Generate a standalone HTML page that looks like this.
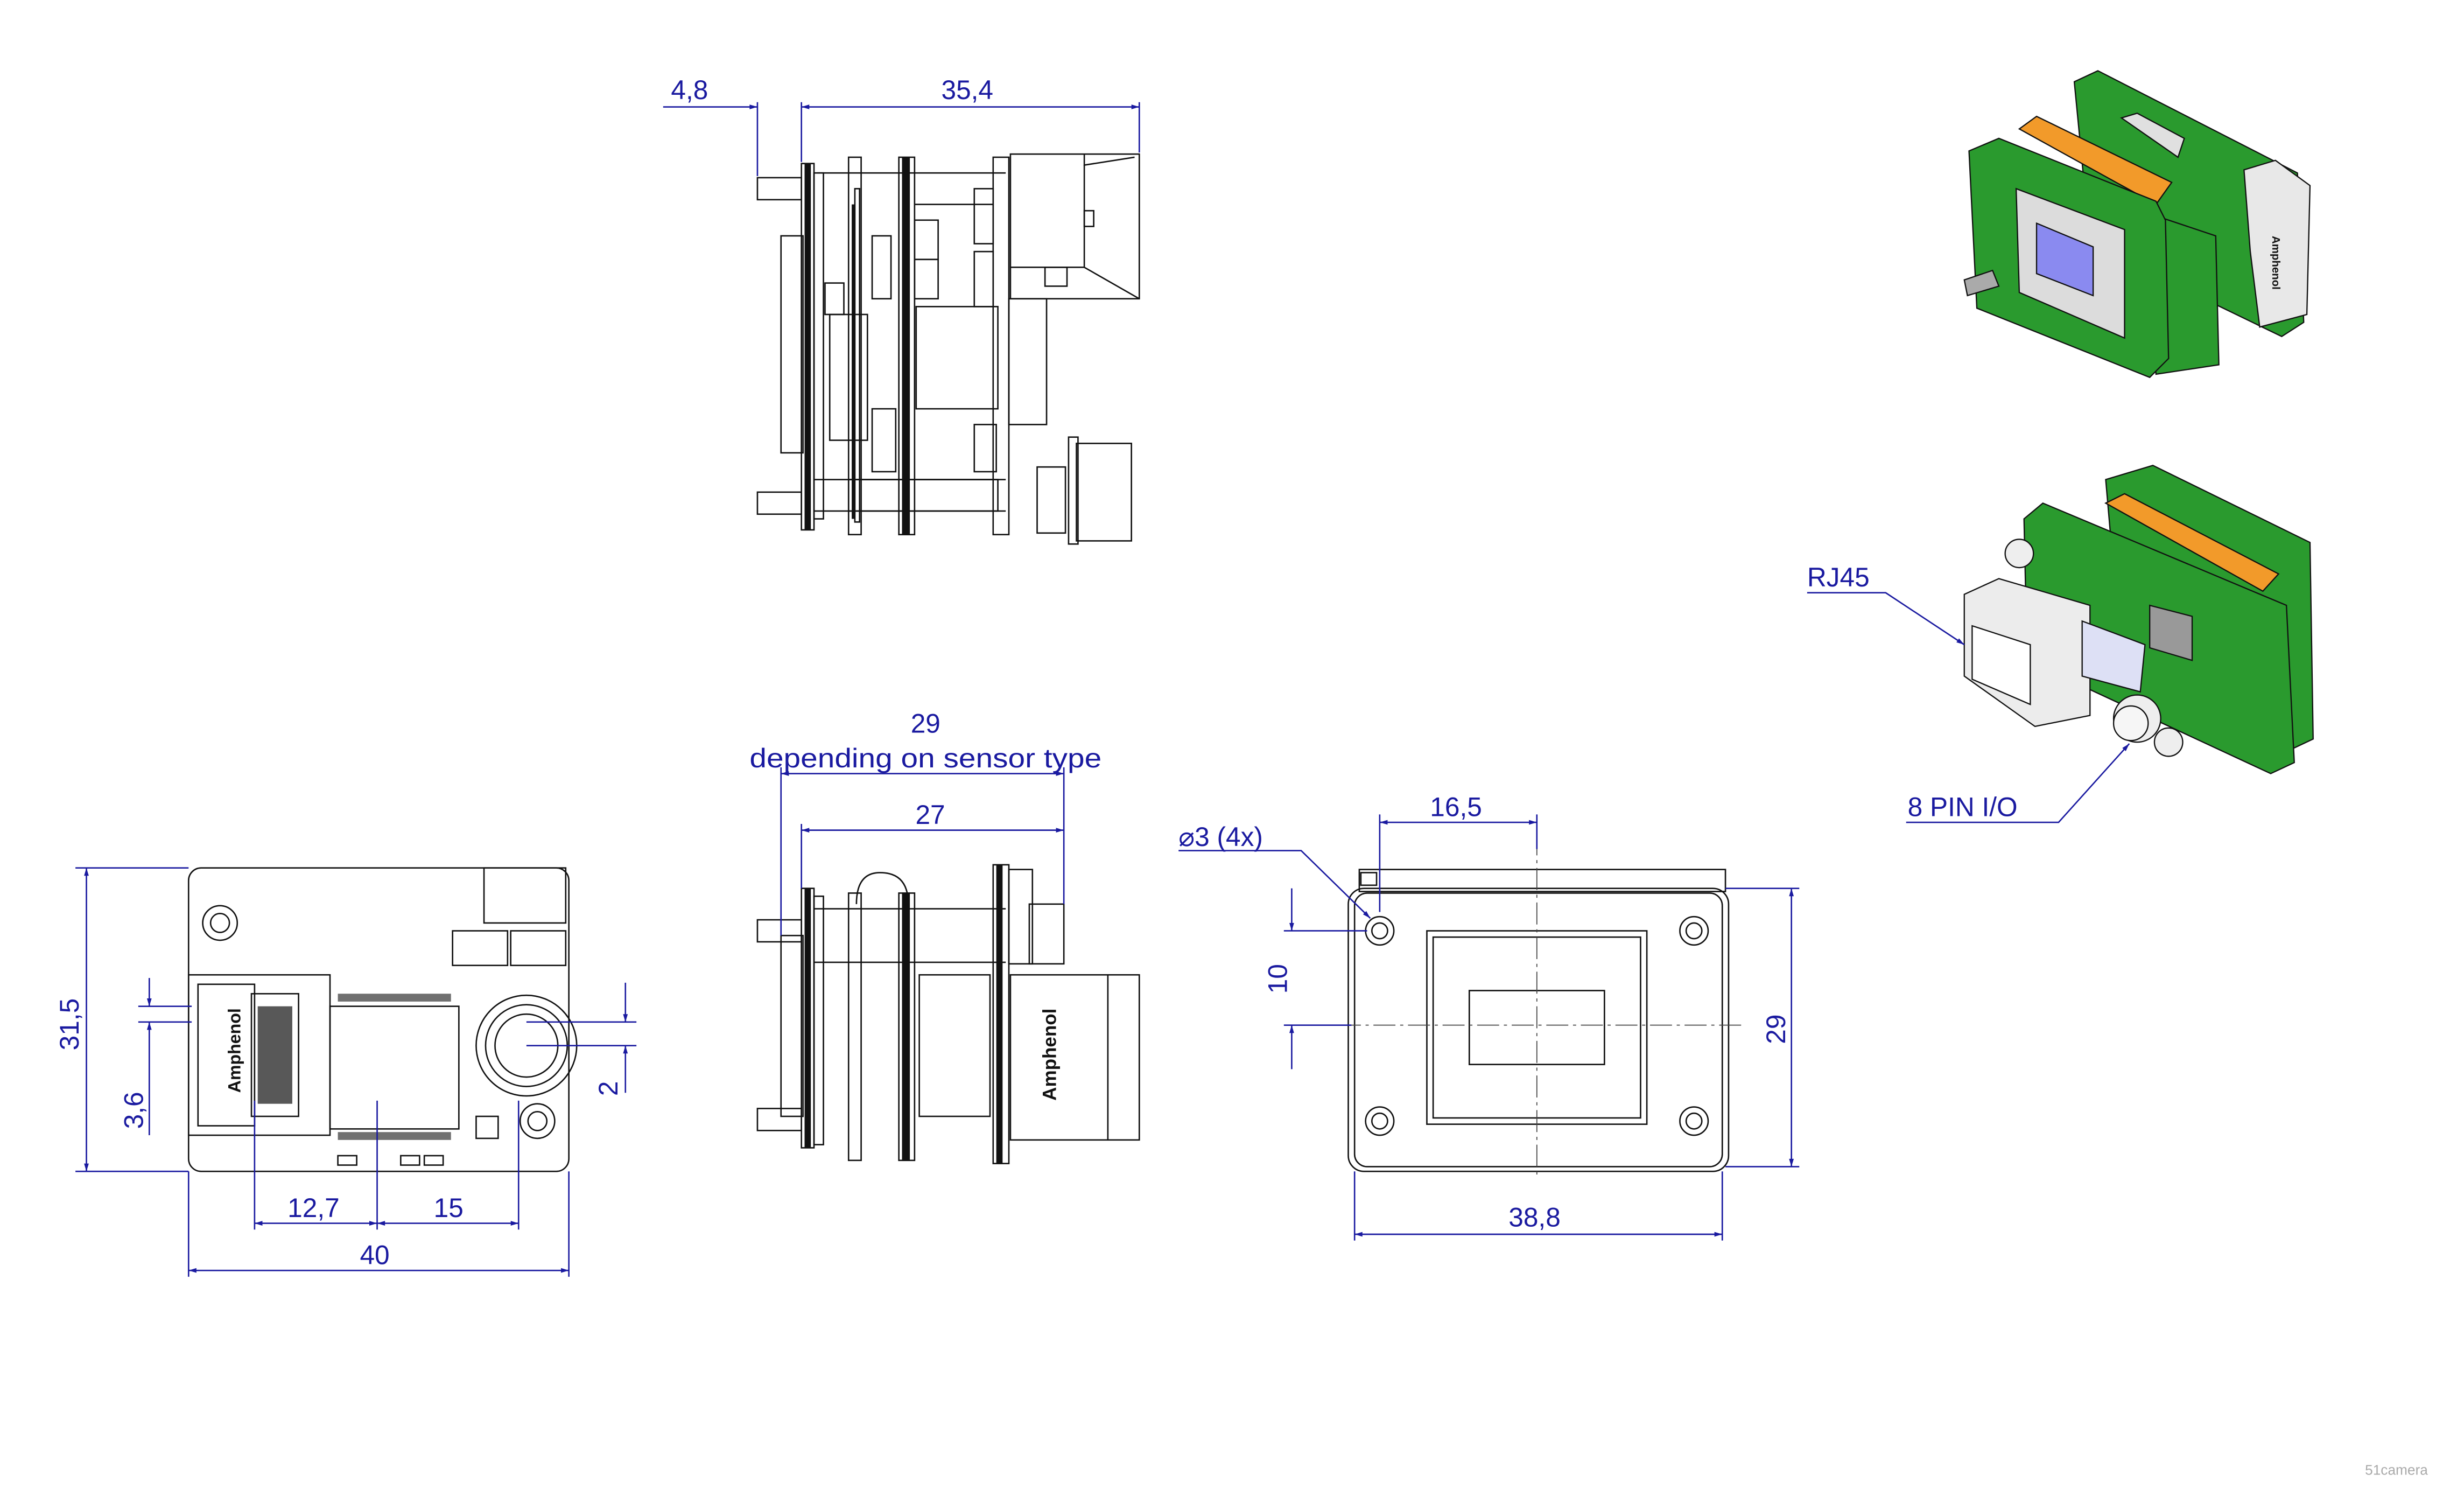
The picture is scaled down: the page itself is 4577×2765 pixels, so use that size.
<!DOCTYPE html>
<html><head><meta charset="utf-8"><style>
html,body{margin:0;padding:0;background:#fff}
svg{display:block}
text{font-family:"Liberation Sans",sans-serif}
</style></head><body>
<svg width="4577" height="2765" viewBox="0 0 1568 947" preserveAspectRatio="none" xmlns="http://www.w3.org/2000/svg">
<defs>
<marker id="a" viewBox="0 0 10 10" refX="10" refY="5" markerWidth="10" markerHeight="5" orient="auto-start-reverse" markerUnits="userSpaceOnUse"><path d="M0,2 L10,5 L0,8 z" fill="#1a1aa0"/></marker>
</defs>
<rect width="1568" height="947" fill="#fff"/>

<!-- ============ TOP SIDE VIEW ============ -->
<g fill="none" stroke="#111" stroke-width="0.9">
<rect x="482" y="113" width="28" height="14"/><rect x="482" y="313" width="28" height="14"/>
<rect x="497" y="150" width="14" height="138"/>
<rect x="510" y="104" width="8" height="233"/><rect x="518" y="110" width="6" height="220"/>
<rect x="540" y="100" width="8" height="240"/><rect x="544" y="120" width="3" height="212"/>
<rect x="572" y="100" width="10" height="240"/>
<rect x="632" y="100" width="10" height="240"/>
<rect x="643" y="98" width="82" height="92"/><polyline points="690,98 690,105 722,100"/>
<polyline points="690,105 690,170 725,190"/><line x1="643" y1="170" x2="690" y2="170"/>
<rect x="665" y="170" width="14" height="12"/><rect x="690" y="134" width="6" height="10"/>
<rect x="642" y="190" width="24" height="80"/>
<rect x="583" y="195" width="52" height="65"/>
<rect x="528" y="200" width="24" height="80"/>
<rect x="540" y="305" width="95" height="20"/>
<rect x="660" y="297" width="18" height="42"/><rect x="685" y="282" width="35" height="62"/><rect x="680" y="278" width="6" height="68"/>
<line x1="518" y1="305" x2="640" y2="305"/><line x1="518" y1="325" x2="640" y2="325"/>
<line x1="520" y1="110" x2="640" y2="110"/><line x1="582" y1="130" x2="632" y2="130"/>
<rect x="582" y="140" width="15" height="25"/><rect x="582" y="165" width="15" height="25"/>
<rect x="620" y="120" width="12" height="35"/><rect x="620" y="160" width="12" height="35"/>
<rect x="555" y="150" width="12" height="40"/><rect x="525" y="180" width="12" height="20"/>
<rect x="555" y="260" width="15" height="40"/><rect x="620" y="270" width="14" height="30"/>
</g>
<g fill="#111"><rect x="512" y="104" width="4" height="233"/><rect x="574" y="100" width="5" height="240"/><rect x="542" y="130" width="2" height="200"/></g>

<!-- top dims -->
<g stroke="#1a1aa0" stroke-width="0.9" fill="none">
<line x1="482" y1="65" x2="482" y2="112"/><line x1="510" y1="65" x2="510" y2="103"/><line x1="725" y1="65" x2="725" y2="97"/>
<line x1="422" y1="68" x2="482" y2="68" marker-end="url(#a)"/>
<line x1="510" y1="68" x2="725" y2="68" marker-start="url(#a)" marker-end="url(#a)"/>
</g>
<g fill="#1a1aa0" font-size="17"><text x="427" y="63">4,8</text><text x="599" y="63">35,4</text></g>

<!-- ============ BOTTOM-LEFT VIEW ============ -->
<g fill="none" stroke="#111" stroke-width="0.9">
<rect x="120" y="552" width="242" height="193" rx="8"/>
<rect x="120" y="620" width="90" height="102"/><rect x="126" y="626" width="36" height="90"/>
<rect x="160" y="632" width="30" height="78"/>
<rect x="210" y="640" width="82" height="78"/>
<circle cx="335" cy="665" r="32"/><circle cx="335" cy="665" r="26"/><circle cx="335" cy="665" r="20"/>
<circle cx="140" cy="587" r="11"/><circle cx="140" cy="587" r="6"/>
<circle cx="342" cy="713" r="11"/><circle cx="342" cy="713" r="6"/>
<rect x="308" y="552" width="52" height="35"/><rect x="288" y="592" width="35" height="22"/><rect x="325" y="592" width="35" height="22"/>
<rect x="303" y="710" width="14" height="14"/>
<rect x="215" y="735" width="12" height="6"/><rect x="255" y="735" width="12" height="6"/><rect x="270" y="735" width="12" height="6"/>
</g>
<g fill="#111"><rect x="164" y="640" width="22" height="62" opacity="0.7"/>
<rect x="215" y="632" width="72" height="5" opacity="0.6"/><rect x="215" y="720" width="72" height="5" opacity="0.6"/></g>
<text x="0" y="0" font-size="11" font-weight="bold" fill="#111" transform="translate(153,695) rotate(-90)">Amphenol</text>
<g stroke="#1a1aa0" stroke-width="0.9" fill="none">
<line x1="48" y1="552" x2="120" y2="552"/><line x1="48" y1="745" x2="120" y2="745"/>
<line x1="55" y1="552" x2="55" y2="745" marker-start="url(#a)" marker-end="url(#a)"/>
<line x1="88" y1="640" x2="122" y2="640"/><line x1="88" y1="650" x2="122" y2="650"/>
<line x1="95" y1="622" x2="95" y2="640" marker-end="url(#a)"/><line x1="95" y1="650" x2="95" y2="722" marker-start="url(#a)"/>
<line x1="162" y1="700" x2="162" y2="782"/><line x1="240" y1="700" x2="240" y2="782"/><line x1="330" y1="700" x2="330" y2="782"/>
<line x1="162" y1="778" x2="240" y2="778" marker-start="url(#a)" marker-end="url(#a)"/>
<line x1="240" y1="778" x2="330" y2="778" marker-start="url(#a)" marker-end="url(#a)"/>
<line x1="120" y1="745" x2="120" y2="812"/><line x1="362" y1="745" x2="362" y2="812"/>
<line x1="120" y1="808" x2="362" y2="808" marker-start="url(#a)" marker-end="url(#a)"/>
<line x1="335" y1="650" x2="405" y2="650"/><line x1="335" y1="665" x2="405" y2="665"/>
<line x1="398" y1="625" x2="398" y2="650" marker-end="url(#a)"/><line x1="398" y1="665" x2="398" y2="695" marker-start="url(#a)"/>
</g>
<g fill="#1a1aa0" font-size="17">
<text transform="translate(50,668) rotate(-90)">31,5</text>
<text transform="translate(91,718) rotate(-90)">3,6</text>
<text transform="translate(393,697) rotate(-90)">2</text>
<text x="183" y="774">12,7</text><text x="276" y="774">15</text><text x="229" y="804">40</text>
</g>

<!-- ============ MIDDLE BOTTOM VIEW ============ -->
<g fill="none" stroke="#111" stroke-width="0.9">
<rect x="482" y="585" width="28" height="14"/><rect x="482" y="705" width="28" height="14"/>
<rect x="497" y="595" width="14" height="115"/>
<rect x="510" y="565" width="8" height="165"/><rect x="518" y="570" width="6" height="158"/>
<rect x="540" y="568" width="8" height="170"/><rect x="572" y="568" width="10" height="170"/>
<rect x="632" y="550" width="10" height="190"/><rect x="642" y="553" width="15" height="60"/>
<path d="M545,575 Q545,555 560,555 Q578,555 578,575"/>
<rect x="643" y="620" width="82" height="105"/><line x1="705" y1="620" x2="705" y2="725"/>
<line x1="518" y1="578" x2="640" y2="578"/><line x1="518" y1="612" x2="640" y2="612"/>
<rect x="655" y="575" width="22" height="38"/>
<rect x="585" y="620" width="45" height="90"/>
</g>
<g fill="#111"><rect x="512" y="565" width="4" height="165"/><rect x="574" y="568" width="5" height="170"/><rect x="634" y="550" width="4" height="190"/></g>
<text font-size="12" font-weight="bold" fill="#111" transform="translate(672,700) rotate(-90)">Amphenol</text>
<g stroke="#1a1aa0" stroke-width="0.9" fill="none">
<line x1="497" y1="488" x2="497" y2="595"/><line x1="510" y1="524" x2="510" y2="565"/><line x1="677" y1="488" x2="677" y2="575"/>
<line x1="497" y1="492" x2="677" y2="492" marker-start="url(#a)" marker-end="url(#a)"/>
<line x1="510" y1="528" x2="677" y2="528" marker-start="url(#a)" marker-end="url(#a)"/>
</g>
<g fill="#1a1aa0" font-size="17" text-anchor="middle">
<text x="589" y="466">29</text><text x="589" y="488" textLength="224" lengthAdjust="spacingAndGlyphs">depending on sensor type</text><text x="592" y="524">27</text>
</g>

<!-- ============ FRONT VIEW ============ -->
<g fill="none" stroke="#111" stroke-width="0.9">
<rect x="865" y="553" width="233" height="14"/>
<rect x="858" y="565" width="242" height="180" rx="10"/>
<rect x="862" y="568" width="234" height="174" rx="8"/>
<rect x="908" y="592" width="140" height="123"/><rect x="912" y="596" width="132" height="115"/>
<rect x="935" y="630" width="86" height="47"/>
<circle cx="878" cy="592" r="9"/><circle cx="878" cy="592" r="5"/>
<circle cx="1078" cy="592" r="9"/><circle cx="1078" cy="592" r="5"/>
<circle cx="878" cy="713" r="9"/><circle cx="878" cy="713" r="5"/>
<circle cx="1078" cy="713" r="9"/><circle cx="1078" cy="713" r="5"/>
<rect x="866" y="555" width="10" height="8"/>
</g>
<g stroke="#444" stroke-width="0.6" stroke-dasharray="14,3,2,3" fill="none">
<line x1="978" y1="530" x2="978" y2="750"/><line x1="830" y1="652" x2="1110" y2="652"/>
</g>
<g stroke="#1a1aa0" stroke-width="0.9" fill="none">
<line x1="878" y1="518" x2="878" y2="580"/><line x1="978" y1="518" x2="978" y2="540"/>
<line x1="878" y1="523" x2="978" y2="523" marker-start="url(#a)" marker-end="url(#a)"/>
<line x1="862" y1="745" x2="862" y2="789"/><line x1="1096" y1="745" x2="1096" y2="789"/>
<line x1="862" y1="785" x2="1096" y2="785" marker-start="url(#a)" marker-end="url(#a)"/>
<line x1="1098" y1="565" x2="1145" y2="565"/><line x1="1098" y1="742" x2="1145" y2="742"/>
<line x1="1140" y1="565" x2="1140" y2="742" marker-start="url(#a)" marker-end="url(#a)"/>
<line x1="817" y1="592" x2="870" y2="592"/><line x1="817" y1="652" x2="860" y2="652"/>
<line x1="822" y1="565" x2="822" y2="592" marker-end="url(#a)"/><line x1="822" y1="652" x2="822" y2="680" marker-start="url(#a)"/>
<polyline points="750,541 828,541 872,584" marker-end="url(#a)"/>
</g>
<g fill="#1a1aa0" font-size="17">
<text x="910" y="519">16,5</text><text x="960" y="780">38,8</text>
<text transform="translate(1136,664) rotate(-90)">29</text>
<text transform="translate(819,632) rotate(-90)">10</text>
<text x="750" y="538">⌀3 (4x)</text>
</g>

<!-- ============ 3D RENDERS ============ -->
<g stroke="#111" stroke-width="0.8">
<!-- top render -->
<polygon points="1320,52 1335,45 1462,110 1466,205 1452,214 1330,155" fill="#2a9a2e"/>
<polygon points="1428,108 1448,102 1470,118 1468,200 1438,208 1432,160" fill="#e8e8e8"/>
<polygon points="1350,75 1360,72 1390,88 1386,100" fill="#e0e0e0"/>
<polygon points="1365,135 1410,150 1412,232 1372,238" fill="#2a9a2e"/>
<polygon points="1285,82 1296,74 1382,116 1372,130" fill="#f29a2a"/>
<polygon points="1253,96 1272,88 1372,128 1378,140 1380,228 1368,240 1258,196" fill="#2a9a2e"/>
<polygon points="1283,120 1352,146 1352,215 1285,186" fill="#dcdcdc"/>
<polygon points="1296,142 1332,157 1332,188 1296,174" fill="#8a8af0"/>
<polygon points="1250,178 1268,172 1272,182 1252,188" fill="#aaa"/>
<!-- bottom render -->
<polygon points="1340,305 1370,296 1470,345 1472,470 1455,478 1350,420" fill="#2a9a2e"/>
<polygon points="1288,330 1300,320 1455,385 1460,485 1445,492 1290,420" fill="#2a9a2e"/>
<polygon points="1340,320 1352,314 1450,365 1440,376" fill="#f29a2a"/>
<polygon points="1250,378 1272,368 1330,385 1330,455 1295,462 1250,430" fill="#ececec"/>
<polygon points="1255,398 1292,410 1292,448 1255,432" fill="#fff"/>
<polygon points="1325,395 1365,410 1362,440 1325,430" fill="#dde0f5"/>
<polygon points="1368,385 1395,392 1395,420 1368,412" fill="#999"/>
<circle cx="1360" cy="457" r="15" fill="#eee"/><circle cx="1356" cy="460" r="11" fill="#f6f6f6"/>
<circle cx="1285" cy="352" r="9" fill="#eee"/><circle cx="1380" cy="472" r="9" fill="#eee"/>
</g>
<text font-size="7" font-weight="bold" fill="#111" transform="translate(1446,150) rotate(90)">Amphenol</text>
<g stroke="#1a1aa0" stroke-width="0.9" fill="none">
<polyline points="1150,377 1200,377 1250,410" marker-end="url(#a)"/>
<polyline points="1213,523 1310,523 1355,473" marker-end="url(#a)"/>
</g>
<g fill="#1a1aa0" font-size="17"><text x="1150" y="373">RJ45</text><text x="1214" y="519">8 PIN I/O</text></g>

<!-- watermark -->
<text x="1505" y="938" font-size="9" fill="#aaa">51camera</text>
</svg>
</body></html>
